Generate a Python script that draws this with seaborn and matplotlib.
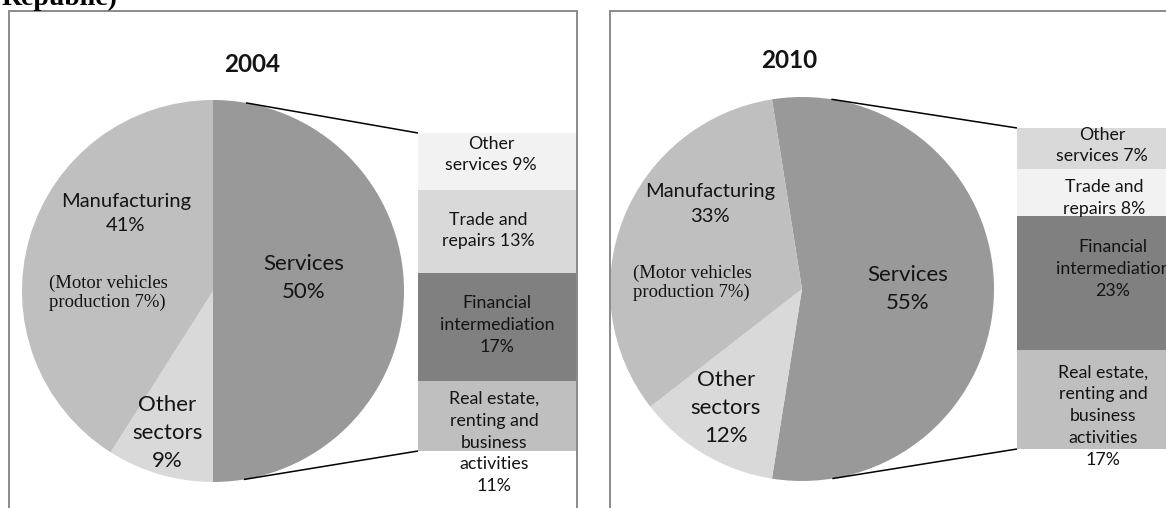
import numpy as np
import matplotlib
matplotlib.use("Agg")
import matplotlib.pyplot as plt
from matplotlib.patches import Rectangle
import seaborn as sns

# ---- data -------------------------------------------------------------
years = ["2004", "2010"]

sectors = ["Services", "Other\nsectors", "Manufacturing"]
sector_share_2004 = [50, 9, 41]
sector_share_2010 = [55, 12, 33]

motor_vehicles_share = [7, 7]

service_parts = ["Other\nservices", "Trade and\nrepairs",
                 "Financial\nintermediation",
                 "Real estate,\nrenting and\nbusiness\nactivities"]
service_share_2004 = [9, 13, 17, 11]
service_share_2010 = [7, 8, 23, 17]

# ---- styling ------------------------------------------------------------
sns.set_theme(style="white")
plt.rcParams["font.family"] = ["Lato", "DejaVu Sans"]

W, H = 1166, 508
fig = plt.figure(figsize=(W / 100, H / 100), dpi=100)

sector_colors = ["#999999", "#d9d9d9", "#bfbfbf"]
part_colors = {"2004": ["#f2f2f2", "#d9d9d9", "#808080", "#bfbfbf"],
               "2010": ["#d9d9d9", "#f2f2f2", "#808080", "#bfbfbf"]}
# how the percentage joins each column label
part_sep = [" ", " ", "\n", "\n"]

# pixel layout of each panel (y measured downward from the top edge)
layout = {
    "2004": dict(cx=213, cy=291, r=191, frame=(8.5, 577),
                 bar=(418, 577, 133, 451), label_x=[491, 488, 497, 494],
                 label_y=[154.5, 230.5, 325, 442.5],
                 title=(252, 65), manuf=(126, 213.5), motor=(49, 293),
                 serv=(304, 277.5), other=(167.6, 432.7)),
    "2010": dict(cx=802, cy=289, r=192, frame=(609.5, 1300),
                 bar=(1017, 1195, 128, 449), label_x=[1102, 1104, 1113, 1103],
                 label_y=[145.5, 198, 269, 416],
                 title=(789.6, 61), manuf=(710, 204), motor=(633.4, 283),
                 serv=(908, 289), other=(725.7, 407.5)),
}
shares = {"2004": (sector_share_2004, service_share_2004, motor_vehicles_share[0]),
          "2010": (sector_share_2010, service_share_2010, motor_vehicles_share[1])}

# base axes in pixel units, y pointing up
base = fig.add_axes([0, 0, 1, 1])

for year in years:
    L = layout[year]
    sec, parts, motor = shares[year]
    # services wedge is centred on the horizontal, running clockwise
    base.pie(sec, colors=sector_colors, startangle=180 * sec[0] / 100,
             counterclock=False, center=(L["cx"], H - L["cy"]), radius=L["r"],
             wedgeprops=dict(linewidth=0))

    # stacked column breaking the services share down
    x0, x1, y0, y1 = L["bar"]
    bax = fig.add_axes([x0 / W, 1 - y1 / H, (x1 - x0) / W, (y1 - y0) / H])
    cum = np.cumsum(parts)
    for i in range(len(parts) - 1, -1, -1):
        sns.barplot(x=[0], y=[cum[i]], color=part_colors[year][i],
                    saturation=1, width=1, linewidth=0, ax=bax)
    bax.set_xlim(-0.5, 0.5)
    bax.set_ylim(cum[-1], 0)
    bax.axis("off")

base.set_xlim(0, W)
base.set_ylim(0, H)
base.set_aspect("auto")
base.axis("off")

# overlay for frames, connectors and text
top = fig.add_axes([0, 0, 1, 1], facecolor="none")
top.set_xlim(0, W)
top.set_ylim(0, H)
top.axis("off")


def txt(x, y, s, **kw):
    top.text(x, H - y, s, **kw)


def tangent(cx, cy, r, px, py, sign):
    dx, dy = px - cx, py - cy
    phi = np.arctan2(dy, dx)
    alpha = np.arccos(r / np.hypot(dx, dy))
    th = phi + sign * alpha
    return cx + r * np.cos(th), cy + r * np.sin(th)


calibri_like = dict(family=["Lato", "DejaVu Sans"], color="#141414")
serif = dict(family=["Liberation Serif", "DejaVu Serif"], color="#141414")

for year in years:
    L = layout[year]
    sec, parts, motor = shares[year]
    fx0, fx1 = L["frame"]
    top.add_patch(Rectangle((fx0, -20), fx1 - fx0, H - 11 + 20, fill=False,
                            edgecolor="#8a8a8a", linewidth=1.4))

    cx, cy, r = L["cx"], H - L["cy"], L["r"]
    x0, x1, y0, y1 = L["bar"]
    for py, sign in ((H - y0, 1), (H - y1, -1)):
        tx, ty = tangent(cx, cy, r, x0, py, sign)
        top.plot([tx, x0], [ty, py], color="black", lw=1.1,
                 solid_capstyle="butt")

    txt(*L["title"], year, ha="center", va="center", fontsize=17.5,
        fontweight="bold", **calibri_like)
    txt(*L["manuf"], f"{sectors[2]}\n{sec[2]}%", ha="center", va="center",
        fontsize=14.5, linespacing=1.55, **calibri_like)
    txt(*L["motor"], f"(Motor vehicles\nproduction {motor}%)", ha="left",
        va="center", fontsize=13.4, linespacing=1.15, **serif)
    txt(*L["serv"], f"{sectors[0]}\n{sec[0]}%", ha="center", va="center",
        fontsize=16, linespacing=1.5, **calibri_like)
    txt(*L["other"], f"{sectors[1]}\n{sec[1]}%", ha="center", va="center",
        fontsize=16, linespacing=1.5, **calibri_like)

    for name, val, sep, lx, ly in zip(service_parts, parts, part_sep,
                                      L["label_x"], L["label_y"]):
        txt(lx, ly, f"{name}{sep}{val}%", ha="center", va="center",
            fontsize=12.8, linespacing=1.45, **calibri_like)

# heading continued from above the figure
txt(2, 5, "Republic)", ha="left", va="baseline", fontsize=20,
    fontweight="bold", family=["Liberation Serif", "DejaVu Serif"], color="black")

fig.savefig("out.png", dpi=100)
